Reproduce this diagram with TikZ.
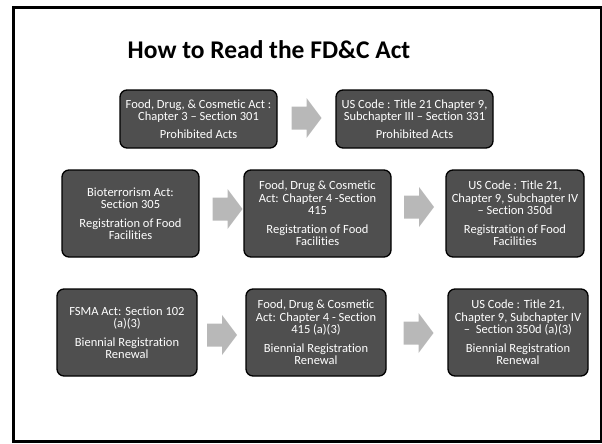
\documentclass[tikz,border=0pt]{standalone}
\usepackage{fontspec}
\setmainfont{Carlito}[Ligatures=NoCommon]
\definecolor{boxgray}{HTML}{4F4F4F}
\definecolor{arrowgray}{HTML}{B8B8B8}
\begin{document}
\begin{tikzpicture}[x=1pt,y=-1pt,
  box/.style={draw=black, line width=1.3pt, fill=boxgray, rounded corners=7pt,
    text=white, align=center, font=\fontsize{12.5}{12.5}\selectfont, inner sep=0pt},
  blockarrow/.pic={\fill[arrowgray] (-15,-11.5) -- (0,-11.5) -- (0,-20) -- (15,0)
    -- (0,20) -- (0,11.5) -- (-15,11.5) -- cycle;},
  frame/.style={draw=black, line width=3pt}]
\useasboundingbox (0,0) rectangle (602,444);
\draw[frame] (13.5,8) rectangle (601,441.5);
\node[font=\fontsize{25.5}{30}\selectfont\bfseries] (title) at (269,50) {How to Read the FD\&C Act};
% row 1
\node[box, minimum width=157pt, minimum height=58pt] (A) at (198.5,119)
  {Food, Drug, \& Cosmetic Act :\\Chapter 3 -- Section 301\\[5pt]Prohibited Acts};
\node[box, minimum width=157pt, minimum height=58pt] (B) at (414.5,119)
  {US Code : Title 21 Chapter 9,\\Subchapter III -- Section 331\\[5pt]Prohibited Acts};
% row 2
\node[box, minimum width=137pt, minimum height=87pt] (C) at (130.5,213.5)
  {Bioterrorism Act:\\Section 305\\[6pt]Registration of Food\\Facilities};
\node[box, minimum width=147pt, minimum height=87pt] (D) at (317.5,213.5)
  {Food, Drug \& Cosmetic\\Act: Chapter 4 -Section\\415\\[6pt]Registration of Food\\Facilities};
\node[box, minimum width=138pt, minimum height=87pt] (E) at (515,213.5)
  {US Code : Title 21,\\Chapter 9, Subchapter IV\\-- Section 350d\\[6pt]Registration of Food\\Facilities};
% row 3
\node[box, minimum width=140pt, minimum height=87pt] (F) at (127,332.5)
  {FSMA Act: Section 102\\(a)(3)\\[6pt]Biennial Registration\\Renewal};
\node[box, minimum width=140pt, minimum height=87pt] (G) at (316,332.5)
  {Food, Drug \& Cosmetic\\Act: Chapter 4 - Section\\415 (a)(3)\\[6pt]Biennial Registration\\Renewal};
\node[box, minimum width=140pt, minimum height=87pt] (H) at (518,332.5)
  {US Code : Title 21,\\Chapter 9, Subchapter IV\\--\ \ Section 350d (a)(3)\\[6pt]Biennial Registration\\Renewal};
% block arrows
\pic (ab) at (306.5,118) {blockarrow};
\pic (cd) at (227.5,209) {blockarrow};
\pic (de) at (419,207) {blockarrow};
\pic (fg) at (222,335) {blockarrow};
\pic (gh) at (418.5,333) {blockarrow};
\end{tikzpicture}
\end{document}
